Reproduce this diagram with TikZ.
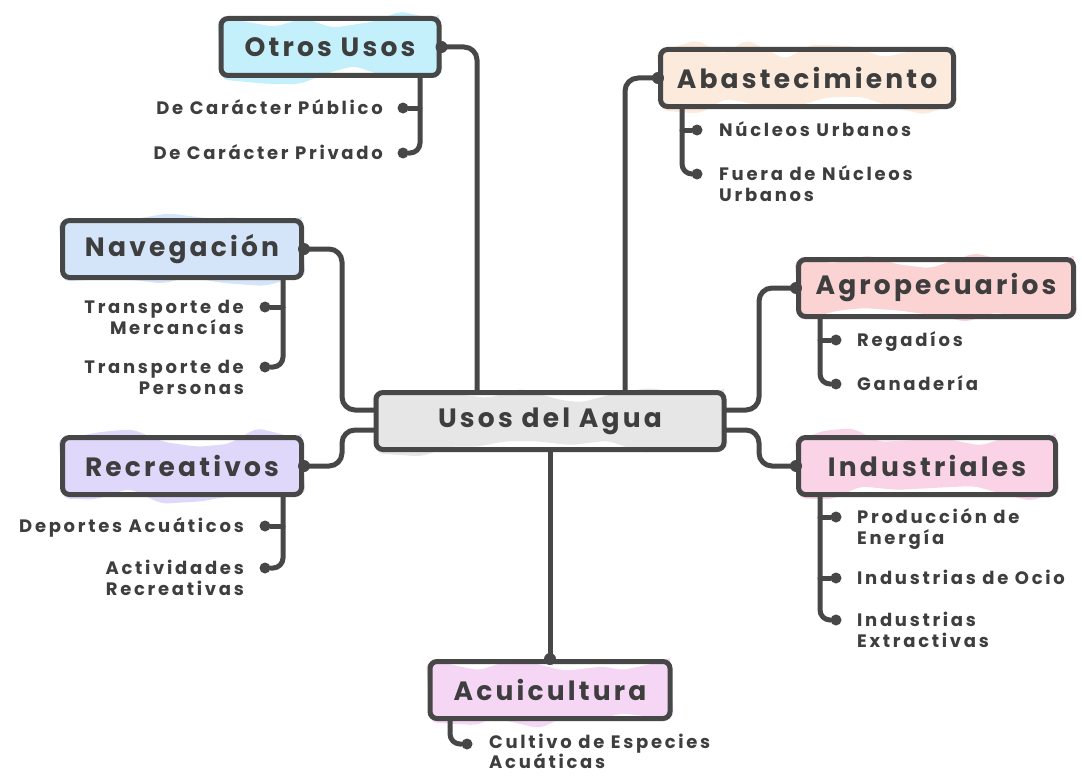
\documentclass[tikz,border=0pt]{standalone}
\usepackage{fontspec}
\setmainfont{Poppins}
\newfontfamily\titlefam{Poppins}[LetterSpace=12]
\newfontfamily\subfam{Poppins}[LetterSpace=15]
\usetikzlibrary{decorations.pathmorphing,calc}
\definecolor{ink}{HTML}{474747}
\definecolor{txt}{HTML}{3E3E3E}
\definecolor{cOtros}{HTML}{C3F0FB}
\definecolor{cAbas}{HTML}{FCEBDD}
\definecolor{cNav}{HTML}{D4E5FA}
\definecolor{cRec}{HTML}{DFD8FA}
\definecolor{cAgro}{HTML}{FBD3D3}
\definecolor{cInd}{HTML}{FAD3E7}
\definecolor{cAcu}{HTML}{F5D7F5}
\definecolor{cCen}{HTML}{E6E6E6}
\newcommand{\titlef}{\titlefam\fontsize{26.5}{30}\selectfont\bfseries}
\newcommand{\subf}{\subfam\fontsize{18}{21.5}\selectfont\bfseries}
\newcommand{\subtightf}{\subfam\fontsize{18}{20}\selectfont\bfseries}
\begin{document}
\begin{tikzpicture}[x=1pt,y=-1pt,
  conn/.style={draw=ink,line width=5pt,rounded corners=13pt,line cap=round},
  box/.style={draw=ink,line width=5pt,rounded corners=7pt,minimum height=57pt,inner sep=0pt,font=\titlef,text=txt},
  sketch/.style={preaction={fill=#1,decorate,decoration={random steps,segment length=32pt,amplitude=10pt}}},
  dot/.style={circle,fill=ink,inner sep=0pt,minimum size=11pt},
  subl/.style={font=\subf,text=txt,inner sep=0pt},
]
\pgfmathsetseed{7}
\useasboundingbox (0,0) rectangle (1082,776);

% boxes
\node[box,sketch=cCen,minimum width=348pt] (c) at (550,421) {Usos del Agua};
\node[box,sketch=cOtros,minimum width=218pt] (ou) at (330,47) {Otros Usos};
\node[box,sketch=cAbas,minimum width=293pt] (ab) at (807,78) {Abastecimiento};
\node[box,sketch=cNav,minimum width=239pt] (nav) at (182,249) {Navegación};
\node[box,sketch=cRec,minimum width=239pt] (rec) at (182,466) {Recreativos};
\node[box,sketch=cAgro,minimum width=275pt] (ag) at (936,288) {Agropecuarios};
\node[box,sketch=cInd,minimum width=257pt] (ind) at (927,466) {Industriales};
\node[box,sketch=cAcu,minimum width=240pt] (acu) at (550,690) {Acuicultura};

% main connectors
\draw[conn] (ou.east) -| ([xshift=-73pt]c.north);
\draw[conn] (ab.west) -| ([xshift=75pt]c.north);
\draw[conn] (nav.east) -- ++(38,0) |- ([yshift=11pt]c.west);
\draw[conn] (rec.east) -- ++(38,0) |- ([yshift=-9pt]c.west);
\draw[conn] (ag.west) -- ++(-37,0) |- ([yshift=11pt]c.east);
\draw[conn] (ind.west) -- ++(-37,0) |- ([yshift=-9pt]c.east);
\draw[conn] (c.south) -- (acu.north);
\foreach \p in {ou.east,ab.west,nav.east,rec.east,ag.west,ind.west,acu.north}
  \fill[ink] (\p) circle (6pt);

% Otros Usos items
\node[dot] (o1) at (403,108) {};
\node[dot] (o2) at (403,153) {};
\draw[conn,rounded corners=10pt] ([xshift=90pt]ou.south) |- (o2);
\draw[conn] (o1) -- ++(17,0);
\node[subl,anchor=base east] (to1) at (383,114) {De Carácter Público};
\node[subl,anchor=base east] (to2) at (383,159) {De Carácter Privado};

% Abastecimiento items
\node[dot] (a1) at (697,130) {};
\node[dot] (a2) at (697,174) {};
\draw[conn,rounded corners=10pt] ([xshift=-125pt]ab.south) |- (a2);
\draw[conn] (a1) -- ++(-15,0);
\node[subl,anchor=base west] (ta1) at (719,136) {Núcleos Urbanos};
\node[subl,anchor=base west,align=left] (ta2) at (719,201.5) {Fuera de Núcleos\\Urbanos};

% Navegación items
\node[dot] (n1) at (265,307) {};
\node[dot] (n2) at (265,367) {};
\draw[conn,rounded corners=10pt] ([xshift=101pt]nav.south) |- (n2);
\draw[conn] (n1) -- ++(18,0);
\node[subl,anchor=base east,align=right] (tn1) at (244,334.5) {Transporte de\\Mercancías};
\node[subl,anchor=base east,align=right] (tn2) at (244,394.5) {Transporte de\\Personas};

% Recreativos items
\node[dot] (r1) at (265,526) {};
\node[dot] (r2) at (265,568) {};
\draw[conn,rounded corners=10pt] ([xshift=101pt]rec.south) |- (r2);
\draw[conn] (r1) -- ++(18,0);
\node[subl,anchor=base east] (tr1) at (244,532) {Deportes Acuáticos};
\node[subl,anchor=base east,align=right] (tr2) at (244,595.5) {Actividades\\Recreativas};

% Agropecuarios items
\node[dot] (g1) at (836,340) {};
\node[dot] (g2) at (836,384) {};
\draw[conn,rounded corners=10pt] ([xshift=-116pt]ag.south) |- (g2);
\draw[conn] (g1) -- ++(-16,0);
\node[subl,anchor=base west] (tg1) at (857,346) {Regadíos};
\node[subl,anchor=base west] (tg2) at (857,390) {Ganadería};

% Industriales items
\node[dot] (i1) at (836,517) {};
\node[dot] (i2) at (836,578) {};
\node[dot] (i3) at (836,620) {};
\draw[conn,rounded corners=10pt] ([xshift=-107pt]ind.south) |- (i3);
\draw[conn] (i1) -- ++(-16,0);
\draw[conn] (i2) -- ++(-16,0);
\node[subl,anchor=base west,align=left] (ti1) at (857,544.5) {Producción de\\Energía};
\node[subl,anchor=base west] (ti2) at (857,584) {Industrias de Ocio};
\node[subl,anchor=base west,align=left] (ti3) at (857,647.5) {Industrias\\Extractivas};

% Acuicultura items
\node[dot] (u1) at (467,744) {};
\draw[conn,rounded corners=10pt] ([xshift=-100pt]acu.south) |- (u1);
\node[subl,font=\subtightf,anchor=base west,align=left] (tu1) at (489,768) {Cultivo de Especies\\Acuáticas};
\end{tikzpicture}
\end{document}
